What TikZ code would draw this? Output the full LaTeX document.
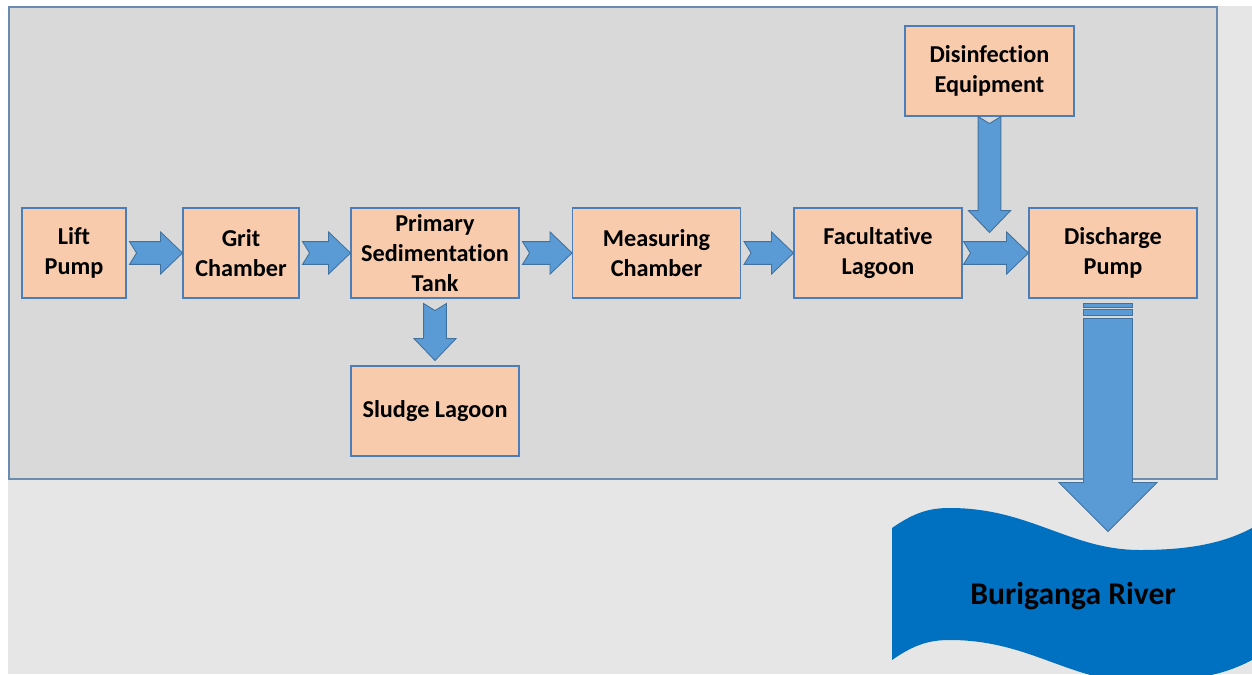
\documentclass[tikz,border=0pt]{standalone}
\usepackage{fontspec}
\setmainfont{Carlito}[Ligatures=NoCommon]
\usepackage{xcolor}
\usetikzlibrary{calc, math}

\definecolor{outergray}{HTML}{E6E6E6}
\definecolor{panelgray}{HTML}{D9D9D9}
\definecolor{panelline}{HTML}{6A8CB0}
\definecolor{boxfill}{HTML}{F8CBAD}
\definecolor{boxline}{HTML}{4A7EBB}
\definecolor{arrowfill}{HTML}{5B9BD5}
\definecolor{arrowline}{HTML}{41719C}
\definecolor{riverblue}{HTML}{0070C0}

\tikzset{
  unit/.style={draw=boxline, line width=0.6pt, fill=boxfill, minimum width=3.36cm,
    minimum height=1.8cm, align=center, inner sep=2pt,
    font=\fontsize{13.8}{17}\selectfont\bfseries},
  flowarrow/.style={fill=arrowfill, draw=arrowline, line width=0.5pt, line join=miter},
}

% notched block arrow, tail #1 to tip #2
\newcommand{\notched}[2]{%
  \path[flowarrow] let \p1=#1, \p2=#2,
    \n1={atan2(\y2-\y1,\x2-\x1)}, \n2={veclen(\x2-\x1,\y2-\y1)} in
    {[shift={(\p1)}, rotate=\n1]
    (0pt,6.5pt) -- (\n2-12.5pt,6.5pt) -- (\n2-12.5pt,12pt) -- (\n2,0pt)
    -- (\n2-12.5pt,-12pt) -- (\n2-12.5pt,-6.5pt) -- (0pt,-6.5pt) -- (4pt,0pt) -- cycle};}

\begin{document}
\begin{tikzpicture}[x=0.02cm, y=-0.02cm]
\useasboundingbox (0,0) rectangle (1252,674);
\clip (0,0) rectangle (1252,674);

% backgrounds
\fill[outergray] (8,6) rectangle (1252,674);
\draw[panelline, fill=panelgray, line width=0.8pt] (9,7) rectangle (1217,479);

% treatment units
\node[unit, minimum width=2.08cm] (lift) at (74,253) {Lift\\Pump};
\node[unit, minimum width=2.32cm] (grit) at (241,253) {Grit\\Chamber};
\node[unit] (primary) at (435,253) {Primary\\Sedimentation\\Tank};
\node[unit] (measuring) at (656.5,253) {Measuring\\Chamber};
\node[unit] (facultative) at (878,253) {Facultative\\Lagoon};
\node[unit] (discharge) at (1113,253) {Discharge\\Pump};
\node[unit, minimum width=3.38cm] (disinf) at (989.5,71) {Disinfection\\Equipment};
\node[unit] (sludge) at (435,411) {Sludge Lagoon};

% main line
\notched{($(lift.east)+(3,0)$)}{(grit.west)}
\notched{($(grit.east)+(3,0)$)}{(primary.west)}
\notched{($(primary.east)+(3,0)$)}{(measuring.west)}
\notched{($(measuring.east)+(3,0)$)}{(facultative.west)}
\notched{($(facultative.east)+(1,0)$)}{(discharge.west)}

% side streams
\notched{($(primary.south)+(0,5)$)}{($(sludge.north)+(0,-5)$)}
\coordinate (dose) at ($(disinf.south)+(0,116)$);
\notched{(disinf.south)}{(dose)}

% outfall to the river
\coordinate (tail) at ($(discharge.south)+(-5,5)$);
\begin{scope}[shift={(tail)}]
\path[flowarrow] (-24.5,0) rectangle (24.5,4);
\path[flowarrow] (-24.5,6) rectangle (24.5,12);
\path[flowarrow] (-24.5,15) -- (-24.5,179) -- (-49,179) -- (0,228) -- (49,179)
  -- (24.5,179) -- (24.5,15) -- cycle;
\end{scope}

\fill[riverblue] (892,528) .. controls (915,512) and (930,508) .. (950,508)
  .. controls (1030,508) and (1070,550) .. (1140,550)
  .. controls (1190,550) and (1230,543) .. (1262,522)
  -- (1262,654) .. controls (1230,675) and (1190,682) .. (1140,682)
  .. controls (1070,682) and (1030,640) .. (950,640)
  .. controls (930,640) and (915,644) .. (892,660) -- cycle;
\node[font=\fontsize{18}{21}\selectfont\bfseries] (river) at (1073,596) {Buriganga River};
\end{tikzpicture}
\end{document}
